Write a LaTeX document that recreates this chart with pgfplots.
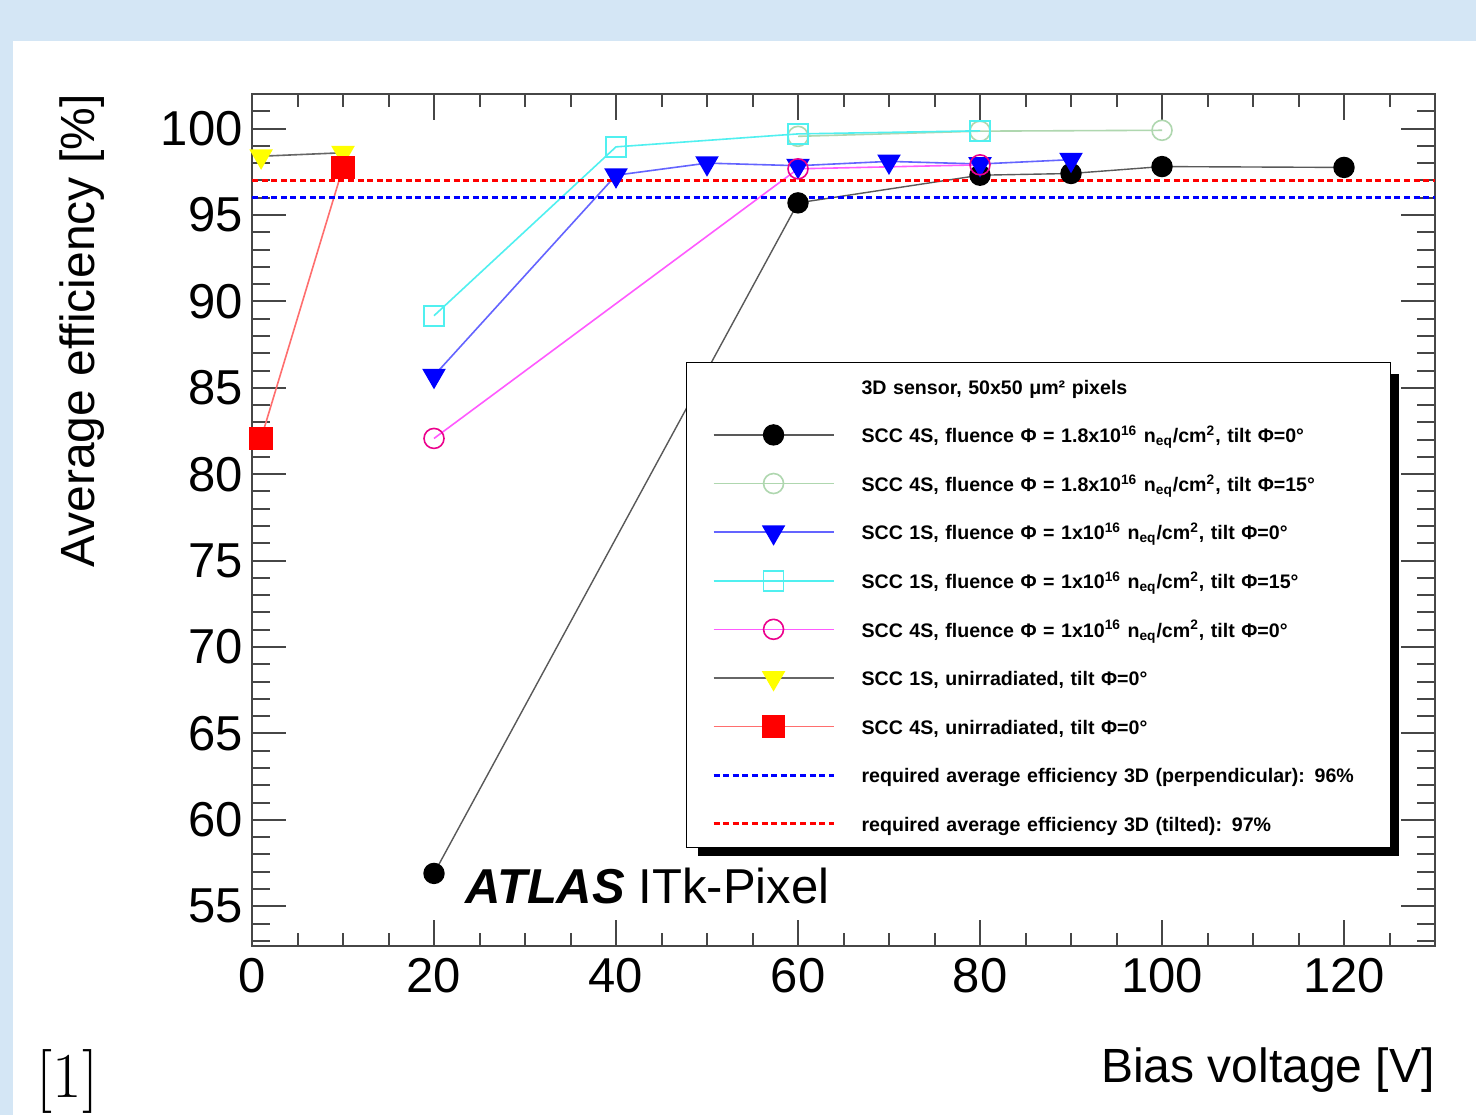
\documentclass[border=0pt]{standalone}
\usepackage{fontspec}
\usepackage{pgfplots}
\pgfplotsset{compat=1.18}
\newfontfamily\arial{Liberation Sans}
\definecolor{bgblue}{RGB}{212,230,245}
\definecolor{sgreen}{RGB}{175,215,175}
\definecolor{sblueline}{RGB}{100,100,255}
\definecolor{scyan}{RGB}{80,240,240}
\definecolor{smagline}{RGB}{255,90,255}
\definecolor{sredline}{RGB}{255,110,110}
\definecolor{syellow}{RGB}{255,255,0}
\definecolor{framegray}{RGB}{70,70,70}
\pgfplotsset{
  common/.style={
    at={(0,0)}, anchor=south west, scale only axis,
    width=591.5pt, height=426pt,
    xmin=0, xmax=130, ymin=52.7, ymax=102,
    tick align=inside,
    axis line style={line width=1.1pt, framegray},
    every tick/.style={line width=1pt, framegray},
    /pgf/number format/assume math mode=true,
    ticklabel style={font=\arial\fontsize{24.5}{24.5}\selectfont, inner sep=0pt},
    label style={font=\arial\fontsize{24}{24}\selectfont, inner sep=0pt},
  }
}
\begin{document}
\begin{tikzpicture}
\path[use as bounding box] (-126pt,-84.5pt) rectangle (612pt,473pt);
\fill[bgblue] (-126pt,-84.5pt) rectangle (612pt,473pt);
\fill[white] (-119.5pt,-84.5pt) rectangle (612pt,452.5pt);
\node[anchor=base west, inner sep=0pt, font=\fontsize{32}{33}\selectfont] at (-107.75pt,-75.5pt) {[1]};
% axis for y ticks
\begin{axis}[common,
  xtick=\empty,
  ytick={50,55,...,105}, minor y tick num=4,
  ytick pos=both, yticklabel pos=left,
  major tick length=17pt, minor tick length=9pt,
  yticklabel style={anchor=east, xshift=-4.5pt},
  ylabel={Average efficiency [\%]},
  ylabel style={at={(axis description cs:-0.1437,1)}, anchor=east, rotate=0},
]
\end{axis}
% axis for data and x ticks
\begin{axis}[common,
  ytick=\empty,
  xtick={0,20,...,140}, minor x tick num=3,
  xtick pos=both, xticklabel pos=bottom,
  major tick length=13pt, minor tick length=6.5pt,
  xticklabel style={anchor=north, yshift=-6pt},
  xlabel={Bias voltage [V]},
  xlabel style={at={(axis description cs:1,0)}, anchor=base east, yshift=-68pt},
  legend cell align=left,
  legend style={
    name=leg,
    at={(axis description cs:0.3669,0.1150)}, anchor=south west,
    draw=black, line width=0.5pt, fill=white,
    inner xsep=13.5pt, inner ysep=7.5pt,
    row sep=15.3pt,
    nodes={inner sep=0pt, text height=8.5pt, text depth=0.5pt, text width=251pt,
           font=\arial\bfseries\fontsize{9.8}{9.8}\selectfont},
    /tikz/every odd column/.append style={column sep=14pt},
  },
  legend image code/.code={%
    \begin{pgfinterruptboundingbox}
    \draw[mark repeat=2,mark phase=2,#1] plot coordinates {(0pt,-0.1pt) (30pt,-0.1pt) (60pt,-0.1pt)};
    \end{pgfinterruptboundingbox}
    \pgfpathrectangle{\pgfpoint{0pt}{-4.5pt}}{\pgfpoint{60pt}{9pt}}\pgfusepath{discard}
  },
]
\addlegendimage{empty legend}
\addlegendentry{3D sensor, 50x50 μm² pixels}

\addplot[black!65, line width=0.7pt, mark=*, mark size=5pt, mark options={solid, fill=black, draw=black}]
  coordinates {(20,56.9) (60,95.7) (80,97.3) (90,97.4) (100,97.8) (120,97.75)};
\addlegendentry{SCC 4S, fluence Φ = 1.8x10\textsuperscript{16} n\textsubscript{eq}/cm\textsuperscript{2}, tilt Φ=0°}

\addplot[sgreen, line width=0.8pt, mark=o, mark size=5pt, mark options={solid, line width=0.8pt}]
  coordinates {(60,99.55) (80,99.85) (100,99.9)};
\addlegendentry{SCC 4S, fluence Φ = 1.8x10\textsuperscript{16} n\textsubscript{eq}/cm\textsuperscript{2}, tilt Φ=15°}

\addplot[sblueline, line width=0.8pt, mark=triangle*, mark size=6pt, mark options={solid, rotate=180, fill=blue, draw=blue}]
  coordinates {(20,85.7) (40,97.3) (50,98.0) (60,97.85) (70,98.1) (80,97.95) (90,98.2)};
\addlegendentry{SCC 1S, fluence Φ = 1x10\textsuperscript{16} n\textsubscript{eq}/cm\textsuperscript{2}, tilt Φ=0°}

\addplot[scyan, line width=0.8pt, mark=square, mark size=5pt, mark options={solid, line width=0.8pt}]
  coordinates {(20,89.17) (40,98.94) (60,99.69) (80,99.87)};
\addlegendentry{SCC 1S, fluence Φ = 1x10\textsuperscript{16} n\textsubscript{eq}/cm\textsuperscript{2}, tilt Φ=15°}

\addplot[smagline, line width=0.8pt, mark=o, mark size=5pt, mark options={solid, line width=0.8pt, draw=magenta}]
  coordinates {(20,82.07) (60,97.67) (80,97.9)};
\addlegendentry{SCC 4S, fluence Φ = 1x10\textsuperscript{16} n\textsubscript{eq}/cm\textsuperscript{2}, tilt Φ=0°}

\addplot[black!60, line width=0.8pt, mark=triangle*, mark size=6pt, mark options={solid, rotate=180, fill=syellow, draw=syellow}]
  coordinates {(1,98.4) (10,98.6)};
\addlegendentry{SCC 1S, unirradiated, tilt Φ=0°}

\addplot[sredline, line width=0.8pt, mark=square*, mark size=5.5pt, mark options={solid, fill=red, draw=red}]
  coordinates {(1,82.07) (10,97.75)};
\addlegendentry{SCC 4S, unirradiated, tilt Φ=0°}

\addplot[blue, line width=1.5pt, dash pattern=on 3pt off 1.8pt]
  coordinates {(0,96) (130,96)};
\addlegendentry{required average efficiency 3D (perpendicular): 96\%}

\addplot[red, line width=1.5pt, dash pattern=on 3pt off 1.8pt]
  coordinates {(0,97) (130,97)};
\addlegendentry{required average efficiency 3D (tilted): 97\%}

\node[anchor=base west, inner sep=0pt, font=\arial\fontsize{24.5}{24.5}\selectfont]
  at (axis cs:23.4,55.15) {{\bfseries\itshape ATLAS} ITk-Pixel};
\end{axis}
\fill[black] ([yshift=-6pt]leg.north east) rectangle ([xshift=4pt,yshift=-4pt]leg.south east);
\fill[black] ([xshift=6pt,yshift=-4pt]leg.south west) rectangle ([xshift=4pt]leg.south east);
\end{tikzpicture}
\end{document}
